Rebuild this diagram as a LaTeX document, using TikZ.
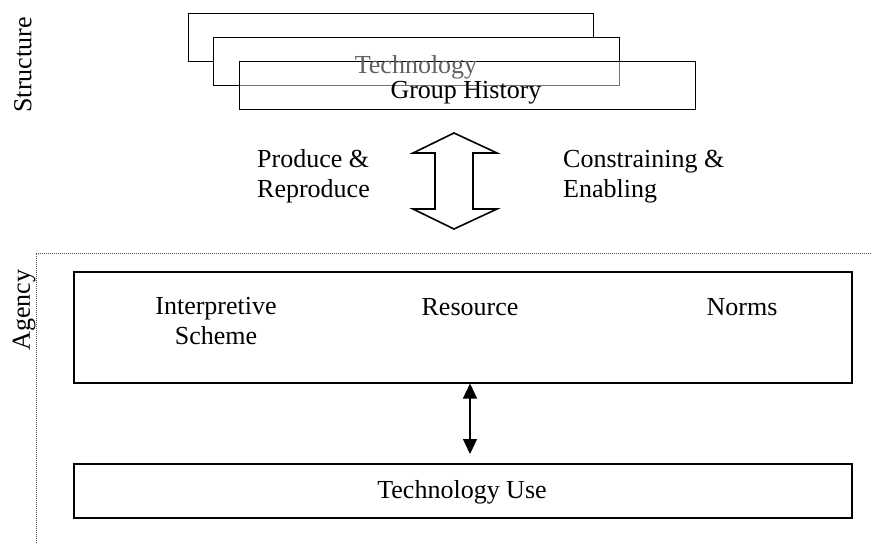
\documentclass[tikz,border=0pt]{standalone}
\usepackage{fontspec}
\setmainfont{Liberation Serif}
\usetikzlibrary{arrows.meta,calc}
\begin{document}
\begin{tikzpicture}[x=1pt,y=-1pt,
  font=\fontsize{26}{30}\selectfont,
  sbox/.style={draw, line width=1.4pt, fill=white, inner sep=0pt, anchor=north west},
  abox/.style={draw, line width=1.5pt, inner sep=0pt, anchor=north west},
  lbl/.style={inner sep=0pt},
  frame/.style={draw=black!70, line width=0.9pt, dash pattern=on 1pt off 1pt},
  blockarrow/.style={draw, line width=1.6pt, line join=miter, fill=white},
  tip/.style={{Triangle[length=15pt,width=14pt]}-{Triangle[length=15pt,width=14pt]}}]
\useasboundingbox (0,0) rectangle (874,543);

% structure side
\node[lbl, rotate=90] (structure) at (23,65) {Structure};
\node[sbox, minimum width=405pt, minimum height=48pt] (b1) at (188,13) {};
\node[sbox, minimum width=406pt, minimum height=48pt] (b2) at (213,37) {};
\node[sbox, fill opacity=0.45, minimum width=456pt, minimum height=48pt] (b3) at (239,61) {};
\node[lbl, anchor=base, text=black!62] (tech) at (416,73) {Technology};
\node[lbl, anchor=base] (hist) at (466,98) {Group History};

% block double arrow
\draw[blockarrow] (454,133) -- (497,153) -- (473,153) -- (473,209) -- (497,209)
  -- (454,229) -- (413,209) -- (435,209) -- (435,153) -- (413,153) -- cycle;
\node[lbl, anchor=base west, align=left] (prod) at (257,197) {Produce \&\\Reproduce};
\node[lbl, anchor=base west, align=left] (cons) at (563,197) {Constraining \&\\Enabling};

% agency side
\draw[frame] (36,543) -- (36,253) -- (872,253);
\node[lbl, rotate=90] (agencylbl) at (24,310) {Agency};
\node[abox, minimum width=778pt, minimum height=111pt] (agency) at (73,271) {};
\node[lbl, anchor=base, align=center] (interp) at (216,344) {Interpretive\\Scheme};
\node[lbl, anchor=base] (res) at (470,315) {Resource};
\node[lbl, anchor=base] (norms) at (742,315) {Norms};
\node[abox, minimum width=778pt, minimum height=54pt] (use) at (73,463) {};
\node[lbl, anchor=base] (uselbl) at (462,498) {Technology Use};
\coordinate (ax) at (470,0);
\draw[tip, line width=1.2pt] (agency.south -| ax) -- ($(use.north -| ax)+(0,-9)$);
\end{tikzpicture}
\end{document}
